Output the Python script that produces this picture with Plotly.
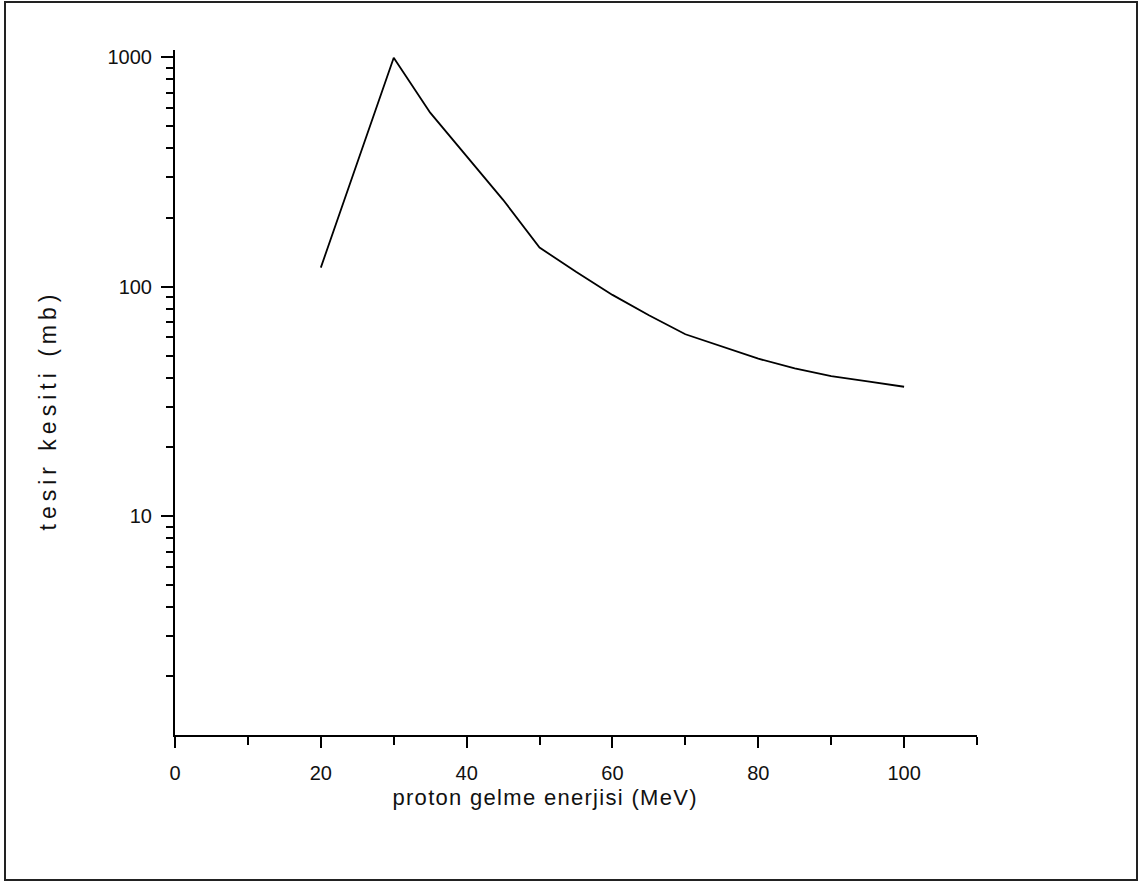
import plotly.graph_objects as go
import numpy as np

# data
energy = [20, 30, 35, 40, 45, 50, 55, 60, 65, 70, 75, 80, 85, 90, 95, 100]
cross_section = [121, 995, 573, 368, 239, 148, 116, 92, 75, 62, 55, 48.5, 44, 40.7, 38.6, 36.6]

x_major = [0, 20, 40, 60, 80, 100]
x_minor = [10, 30, 50, 70, 90, 110]
y_major = [10, 100, 1000]
y_minor = [m * 10 ** e for e in range(0, 3) for m in range(2, 10)]

x_title = "proton gelme enerjisi (MeV)"
y_title = "tesir kesiti (mb)"

fig = go.Figure()
fig.add_trace(go.Scatter(
    x=energy, y=cross_section, mode="lines",
    line=dict(color="black", width=1.8),
    showlegend=False, hoverinfo="x+y"))

W, H = 1141, 883
L, R, T, B = 175, W - 977, 50, H - 735
pw, ph = W - L - R, H - T - B

def px_to_paper_x(px):
    return (px - L) / pw

def px_to_paper_y(py):
    return (H - B - py) / ph

fig.add_shape(type="rect", xref="paper", yref="paper",
              x0=px_to_paper_x(5), x1=px_to_paper_x(1137),
              y0=px_to_paper_y(880), y1=px_to_paper_y(2),
              line=dict(color="#222", width=2), fillcolor="rgba(0,0,0,0)", layer="below")

fam = "Liberation Sans, Arial, sans-serif"
tcol = "#111"

fig.add_annotation(text=x_title, xref="paper", yref="paper",
                   x=px_to_paper_x(545), y=px_to_paper_y(798),
                   xanchor="center", yanchor="middle", showarrow=False,
                   font=dict(size=22, family=fam, color=tcol))
fig.add_annotation(text=y_title, xref="paper", yref="paper",
                   x=px_to_paper_x(48), y=px_to_paper_y(410), textangle=-90,
                   xanchor="center", yanchor="middle", showarrow=False,
                   font=dict(size=23, family=fam, color=tcol))

fig.update_layout(
    width=W, height=H,
    margin=dict(l=L, r=R, t=T, b=B),
    paper_bgcolor="white", plot_bgcolor="white",
    font=dict(family=fam, color=tcol),
    xaxis=dict(
        range=[0, 110], tickvals=x_major, ticktext=[str(v) for v in x_major],
        ticks="outside", ticklen=11, tickwidth=2, tickcolor="black",
        showline=True, linecolor="black", linewidth=2, mirror=False,
        showgrid=False, zeroline=False, ticklabelstandoff=8,
        tickfont=dict(size=20, family=fam, color=tcol),
        minor=dict(tickvals=x_minor, ticks="outside", ticklen=8, tickwidth=2, tickcolor="black", showgrid=False),
    ),
    yaxis=dict(
        type="log", range=[np.log10(1.11), np.log10(1075)],
        tickvals=y_major, ticktext=[str(v) for v in y_major],
        ticks="outside", ticklen=12, tickwidth=2, tickcolor="black",
        showline=True, linecolor="black", linewidth=2, mirror=False,
        showgrid=False, zeroline=False, ticklabelstandoff=5,
        tickfont=dict(size=20, family=fam, color=tcol),
        minor=dict(tickvals=y_minor, ticks="outside", ticklen=7, tickwidth=2, tickcolor="black", showgrid=False),
    ),
)

post = """
document.body.style.margin = '0';
document.querySelectorAll('.annotation-text').forEach(function(e){
  var t = e.textContent;
  if (t.indexOf('tesir') === 0) { e.style.letterSpacing = '5px'; }
  else if (t.indexOf('proton') === 0) { e.style.letterSpacing = '1.3px'; }
});
"""
fig.write_html("out.html", post_script=post, config={"displayModeBar": False})
